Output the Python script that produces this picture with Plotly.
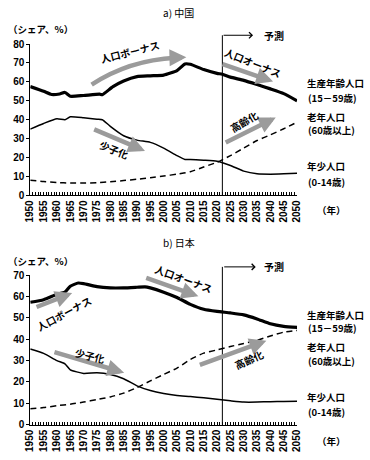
import plotly.graph_objects as go

# ---- Data: China ----
cn_years_work = [1950, 1955, 1958, 1961, 1963, 1965, 1970, 1976, 1977, 1981, 1985, 1990, 1995, 2000, 2005, 2008, 2010, 2015, 2020, 2022, 2025, 2030, 2035, 2040, 2045, 2050]
cn_work = [57.5, 55.0, 53.3, 53.6, 54.4, 52.4, 52.8, 53.5, 53.2, 57.5, 60.5, 62.8, 63.2, 63.6, 66.0, 69.5, 69.3, 66.5, 64.5, 64.0, 62.5, 60.8, 58.6, 56.3, 53.8, 50.0]
cn_years_young = [1950, 1955, 1960, 1963, 1965, 1970, 1975, 1977, 1980, 1985, 1990, 1995, 2000, 2005, 2008, 2010, 2015, 2020, 2025, 2030, 2035, 2040, 2045, 2050]
cn_young = [35.0, 38.0, 40.5, 40.0, 41.5, 41.0, 40.2, 40.0, 36.5, 31.5, 29.2, 28.0, 25.0, 21.0, 19.0, 19.0, 18.6, 18.0, 15.8, 12.8, 11.4, 11.2, 11.4, 11.7]
cn_years_old = [1950, 1955, 1960, 1965, 1970, 1975, 1980, 1985, 1990, 1995, 2000, 2005, 2010, 2015, 2020, 2025, 2030, 2035, 2040, 2045, 2050]
cn_old = [8.0, 7.3, 6.8, 6.5, 6.5, 6.7, 7.2, 7.8, 8.5, 9.3, 10.2, 11.2, 12.5, 15.0, 17.5, 21.0, 25.0, 29.0, 32.0, 35.2, 38.7]

# ---- Data: Japan ----
jp_years_work = [1950, 1955, 1960, 1963, 1965, 1968, 1970, 1975, 1980, 1985, 1990, 1993, 1995, 2000, 2005, 2010, 2015, 2020, 2025, 2030, 2035, 2040, 2045, 2050]
jp_work = [57.3, 58.5, 61.0, 62.0, 64.8, 66.3, 66.0, 64.6, 64.0, 64.0, 64.3, 64.5, 64.0, 62.0, 59.5, 56.3, 54.0, 53.0, 52.3, 51.4, 49.5, 47.2, 46.0, 45.5]
jp_years_young = [1950, 1955, 1960, 1963, 1965, 1970, 1975, 1980, 1985, 1990, 1995, 2000, 2005, 2010, 2015, 2020, 2025, 2030, 2035, 2040, 2045, 2050]
jp_young = [35.4, 33.4, 30.0, 28.5, 25.7, 24.0, 24.3, 23.5, 21.5, 18.2, 16.0, 14.6, 13.7, 13.2, 12.6, 11.9, 11.2, 10.6, 10.6, 10.8, 10.9, 11.0]
jp_years_old = [1950, 1955, 1960, 1965, 1970, 1975, 1980, 1985, 1990, 1995, 2000, 2005, 2010, 2015, 2020, 2025, 2030, 2035, 2040, 2045, 2050]
jp_old = [7.5, 8.0, 8.9, 9.6, 10.6, 11.8, 13.0, 14.8, 17.4, 20.5, 23.5, 26.5, 30.5, 33.5, 35.0, 36.6, 38.0, 39.5, 41.5, 43.3, 44.1]

year_ticks = list(range(1950, 2051, 5))
forecast_year = 2022

W, H = 370, 460
def py(p):
    return 1 - p / H

JP = "Noto Sans CJK JP"
NUMF = "Liberation Sans, Arial"
GRAY = "#9b9b9b"

fig = go.Figure()

def add_lines(xa, ya, yw, w, yy, y, yo, o):
    fig.add_trace(go.Scatter(x=yw, y=w, mode="lines", xaxis=xa, yaxis=ya,
                             line=dict(color="black", width=3.2, shape="spline", smoothing=0.5)))
    fig.add_trace(go.Scatter(x=yy, y=y, mode="lines", xaxis=xa, yaxis=ya,
                             line=dict(color="black", width=1.5, shape="spline", smoothing=0.5)))
    fig.add_trace(go.Scatter(x=yo, y=o, mode="lines", xaxis=xa, yaxis=ya,
                             line=dict(color="black", width=1.5, dash="6px,4px", shape="spline", smoothing=0.5)))

add_lines("x", "y", cn_years_work, cn_work, cn_years_young, cn_young, cn_years_old, cn_old)
add_lines("x2", "y2", jp_years_work, jp_work, jp_years_young, jp_young, jp_years_old, jp_old)

xdom = [25 / W, 300 / W]
xaxis_common = dict(
    range=[1950, 2050], tickmode="array", tickvals=year_ticks,
    ticktext=[str(v) for v in year_ticks], tickangle=-90,
    showline=True, linecolor="black", linewidth=1, ticks="inside", ticklen=3,
    tickcolor="black", showgrid=False, zeroline=False,
    tickfont=dict(family=NUMF, size=10, color="black", weight="bold"),
    minor=dict(dtick=1, ticks="inside", ticklen=3, tickcolor="black", showgrid=False),
    domain=xdom, fixedrange=True,
)
yaxis_common = dict(
    showline=True, linecolor="black", linewidth=1, ticks="outside", ticklen=3,
    tickcolor="black", showgrid=False, zeroline=False, dtick=10,
    tickfont=dict(family=NUMF, size=10, color="black", weight="bold"),
    fixedrange=True,
)

fig.update_layout(
    width=W, height=H, margin=dict(l=0, r=0, t=0, b=0),
    paper_bgcolor="white", plot_bgcolor="white", showlegend=False,
    xaxis=dict(**xaxis_common, anchor="y"),
    yaxis=dict(**yaxis_common, range=[0, 80], domain=[py(195), py(40)], anchor="x"),
    xaxis2=dict(**xaxis_common, anchor="y2"),
    yaxis2=dict(**yaxis_common, range=[0, 70], domain=[py(430), py(276.7)], anchor="x2"),
)

annotations = []
shapes = []

def txt(text, x, y, xref, yref, size=10, angle=0, xanchor="center", color="black", bold=True):
    annotations.append(dict(text=text, x=x, y=y, xref=xref, yref=yref, showarrow=False,
                            textangle=angle, xanchor=xanchor, yanchor="middle",
                            font=dict(family=JP, size=size, color=color, weight="bold" if bold else "normal")))

def arrow(x0, y0, x1, y1, xr, yr):
    annotations.append(dict(text="", x=x1, y=y1, ax=x0, ay=y0, xref=xr, yref=yr, axref=xr, ayref=yr,
                            showarrow=True, arrowhead=2, arrowsize=0.75, arrowwidth=4.5,
                            arrowcolor=GRAY, standoff=0, startstandoff=0))

# ---- Panel a) China ----
txt("a) 中国", 178 / W, py(8), "paper", "paper", size=10, bold=False)
txt("（シェア、%）", 0 / W, py(25), "paper", "paper", size=9.5, xanchor="left")
shapes.append(dict(type="line", xref="x", yref="paper", x0=forecast_year, x1=forecast_year,
                   y0=py(195), y1=py(31), line=dict(color="black", width=1)))
annotations.append(dict(text="", x=2033.5, y=py(31), xref="x", yref="paper", ax=-31, ay=0,
                        axref="pixel", ayref="pixel", showarrow=True, arrowhead=4, arrowsize=1.2,
                        arrowwidth=1, arrowcolor="black", standoff=0))
txt("予測", 2041.5, py(31), "x", "paper", size=10)
shapes.append(dict(type="path", xref="x", yref="y",
                   path="M 1973,58.6 Q 1987,71.5 2004.5,72.8",
                   line=dict(color=GRAY, width=4.5)))
arrow(2003.5, 72.8, 2008.5, 73.0, "x", "y")
txt("人口ボーナス", 1987.5, 75.8, "x", "y", angle=-14)
arrow(2021.5, 69.6, 2041, 60.2, "x", "y")
txt("人口オーナス", 2033.5, 70.3, "x", "y", angle=22)
arrow(1973.4, 35.2, 1993, 23.5, "x", "y")
txt("少子化", 1981.5, 24.2, "x", "y", angle=22)
arrow(2022.7, 27.5, 2042, 41.2, "x", "y")
txt("高齢化", 2030, 39.0, "x", "y", angle=-30)
LBL = 9.5
txt("生産年齢人口", 308 / W, py(80), "paper", "paper", size=LBL, xanchor="left")
txt("(15－59歳)", 309 / W, py(95), "paper", "paper", size=LBL, xanchor="left")
txt("老年人口", 308 / W, py(115), "paper", "paper", size=LBL, xanchor="left")
txt("(60歳以上)", 309 / W, py(128), "paper", "paper", size=LBL, xanchor="left")
txt("年少人口", 308 / W, py(165), "paper", "paper", size=LBL, xanchor="left")
txt("(0-14歳)", 309 / W, py(181), "paper", "paper", size=LBL, xanchor="left")
txt("（年）", 318 / W, py(210), "paper", "paper", size=LBL, xanchor="left")

# ---- Panel b) Japan ----
txt("b) 日本", 178 / W, py(243), "paper", "paper", size=10, bold=False)
txt("（シェア、%）", 0 / W, py(262), "paper", "paper", size=9.5, xanchor="left")
shapes.append(dict(type="line", xref="x2", yref="paper", x0=forecast_year, x1=forecast_year,
                   y0=py(430), y1=py(268.3), line=dict(color="black", width=1)))
annotations.append(dict(text="", x=2034.5, y=py(268.3), xref="x2", yref="paper", ax=-33, ay=0,
                        axref="pixel", ayref="pixel", showarrow=True, arrowhead=4, arrowsize=1.2,
                        arrowwidth=1, arrowcolor="black", standoff=0))
txt("予測", 2041.5, py(268.3), "x2", "paper", size=10)
arrow(1951.8, 54.8, 1965.7, 61.6, "x2", "y2")
txt("人口ボーナス", 1962.5, 52.0, "x2", "y2", angle=-28)
arrow(1992.9, 68.9, 2013, 60.1, "x2", "y2")
txt("人口オーナス", 2007.5, 68.6, "x2", "y2", angle=20)
arrow(1958.5, 34.2, 1985.2, 24.3, "x2", "y2")
txt("少子化", 1972.4, 32.5, "x2", "y2", angle=14)
arrow(2013, 27.7, 2038.5, 39.3, "x2", "y2")
txt("高齢化", 2031.8, 30.5, "x2", "y2", angle=-24)
txt("生産年齢人口", 308 / W, py(318), "paper", "paper", size=LBL, xanchor="left")
txt("(15－59歳)", 309 / W, py(331), "paper", "paper", size=LBL, xanchor="left")
txt("老年人口", 308 / W, py(350), "paper", "paper", size=LBL, xanchor="left")
txt("(60歳以上)", 309 / W, py(365), "paper", "paper", size=LBL, xanchor="left")
txt("年少人口", 308 / W, py(402), "paper", "paper", size=LBL, xanchor="left")
txt("(0-14歳)", 309 / W, py(417), "paper", "paper", size=LBL, xanchor="left")
txt("（年）", 318 / W, py(447), "paper", "paper", size=LBL, xanchor="left")

fig.update_layout(annotations=annotations, shapes=shapes)
fig.write_html("out.html", config={"displayModeBar": False},
               post_script="document.body.style.margin='0';document.body.style.padding='0';document.body.style.overflow='hidden';")
